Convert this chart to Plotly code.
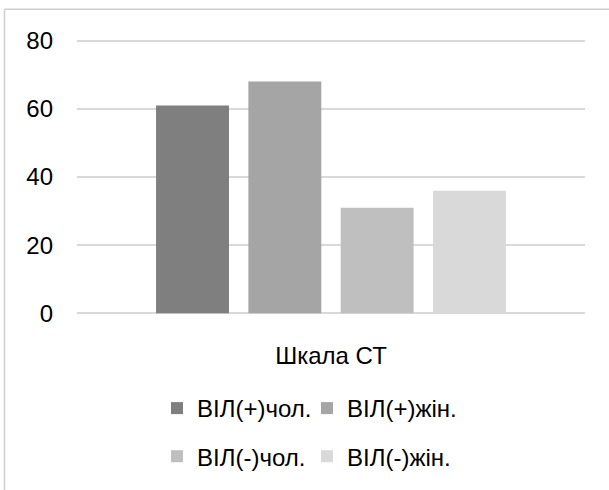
import plotly.graph_objects as go

categories = ["Шкала СТ"]
series_names = ["ВІЛ(+)чол.", "ВІЛ(+)жін.", "ВІЛ(-)чол.", "ВІЛ(-)жін."]
series_values = [[61], [68], [31], [36]]
colors = ["#7F7F7F", "#A5A5A5", "#BFBFBF", "#D9D9D9"]
y_ticks = [0, 20, 40, 60, 80]

FONT = "Liberation Sans"
FS = 24
W, H = 609, 490
PAD = 0.5  # y-range padding in data units so the edge gridlines are drawn
UNIT = 3.4  # px per data unit
L, R = 77, 24
T = 41 - PAD * UNIT
B = 177 - PAD * UNIT
pw = W - L - R
ph = H - T - B

def px_x(p):
    return (p - L) / pw

def px_y(p):
    return (H - B - p) / ph

fig = go.Figure()
legend_ids = ["legend", "legend", "legend2", "legend2"]
for name, vals, col, lg in zip(series_names, series_values, colors, legend_ids):
    fig.add_trace(go.Bar(x=categories, y=vals, name=name, marker_color=col,
                         marker_line_width=0, legend=lg))

legend_common = dict(orientation="h", xanchor="left", yanchor="middle",
                     font=dict(family=FONT, size=FS, color="#000000"),
                     bgcolor="rgba(0,0,0,0)", entrywidth=105, entrywidthmode="pixels",
                     traceorder="normal", itemclick=False, itemdoubleclick=False)

fig.update_layout(
    width=W, height=H,
    margin=dict(l=L, r=R, t=T, b=B, pad=0, autoexpand=False),
    paper_bgcolor="white", plot_bgcolor="white",
    barmode="group", bargap=0.273, bargroupgap=0.21,
    font=dict(family=FONT, size=FS, color="#000000"),
    showlegend=True,
    legend=dict(x=px_x(157), y=px_y(408), **legend_common),
    legend2=dict(x=px_x(157), y=px_y(456), **legend_common),
    xaxis=dict(showgrid=False, showline=False, zeroline=False, ticks="",
               ticklabelstandoff=24, tickfont=dict(family=FONT, size=FS)),
    yaxis=dict(range=[-PAD, 80 + PAD], tickvals=y_ticks, showgrid=True, gridcolor="#D9D9D9",
               gridwidth=1.5, zeroline=True, zerolinecolor="#D9D9D9", zerolinewidth=1.5,
               showline=False, ticks="",
               ticklabelstandoff=23, tickfont=dict(family=FONT, size=FS)),
    shapes=[
        dict(type="line", xref="paper", yref="paper",
             x0=px_x(4.5), x1=px_x(640), y0=px_y(9.5), y1=px_y(9.5),
             line=dict(color="#D0D0D0", width=1.5), layer="below"),
        dict(type="line", xref="paper", yref="paper",
             x0=px_x(4.5), x1=px_x(4.5), y0=px_y(9.5), y1=px_y(520),
             line=dict(color="#D0D0D0", width=1.5), layer="below"),
    ],
)

fig.write_html("out.html", config={"displayModeBar": False},
               post_script="document.body.style.margin='0px';")
